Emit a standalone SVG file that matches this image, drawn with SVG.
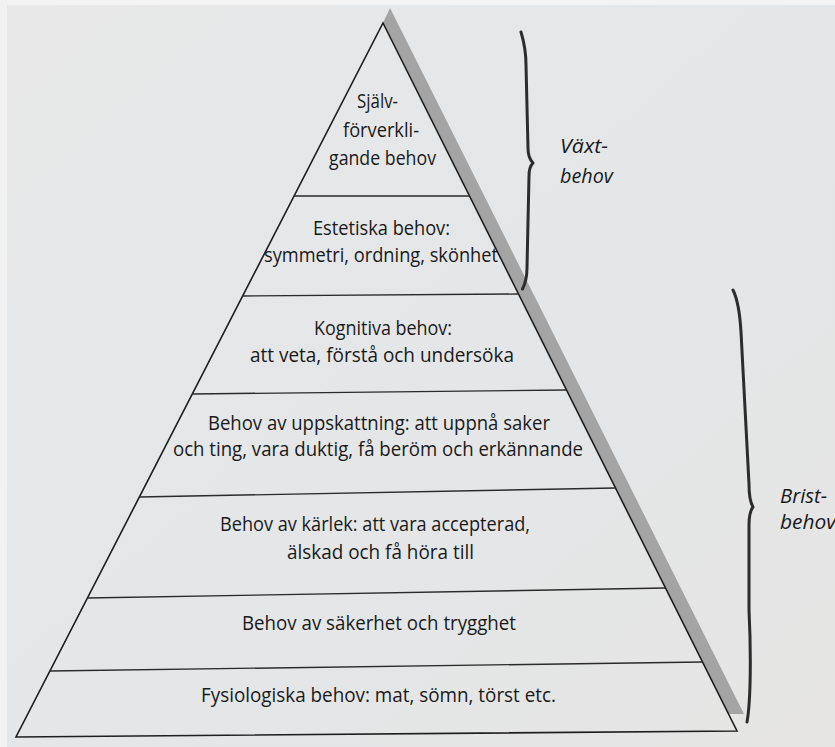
<svg xmlns="http://www.w3.org/2000/svg" width="835" height="747" viewBox="0 0 835 747">
  <defs>
    <linearGradient id="paper" x1="0" y1="0" x2="1" y2="1">
      <stop offset="0" stop-color="#e8e8e8"/>
      <stop offset="0.5" stop-color="#e4e6e8"/>
      <stop offset="1" stop-color="#e6e5e4"/>
    </linearGradient>
    <style>
      .edge { fill: none; stroke: #1e1e1e; stroke-width: 1.6; stroke-linejoin: miter; }
      .tier { fill: none; stroke: #2a2a2a; stroke-width: 1.4; }
      .shadow { fill: #a4a4a4; }
      .brace { fill: none; stroke: #2c2c2c; stroke-width: 3; stroke-linecap: round; stroke-linejoin: round; }
      .lbl { font-family: "Open Sans", "Noto Sans", "DejaVu Sans", sans-serif; font-size: 20px; fill: #1a1a1a; text-anchor: middle; }
      .side { font-family: "Open Sans", "Noto Sans", "DejaVu Sans", sans-serif; font-size: 20px; font-style: italic; fill: #1a1a1a; }
    </style>
  </defs>

  <rect x="0" y="0" width="835" height="747" fill="url(#paper)"/>
  <rect x="0" y="0" width="835" height="5" fill="#f3f3f3"/>
  <rect x="0" y="0" width="7" height="747" fill="#f1f1f1"/>

  <g id="pyramid">
    <polygon class="shadow" points="383,23 390,8 744,714 728,714"/>
    <polygon class="edge" points="383,23 737,731 16,737"/>
  </g>

  <g id="connectors">
    <line class="tier" x1="294" y1="196" x2="469.5" y2="196"/>
    <line class="tier" x1="242.5" y1="296" x2="518.5" y2="294"/>
    <line class="tier" x1="192" y1="394" x2="566.5" y2="390"/>
    <line class="tier" x1="139" y1="497" x2="615" y2="488"/>
    <line class="tier" x1="87" y1="598" x2="665.5" y2="588"/>
    <line class="tier" x1="50" y1="671" x2="702.5" y2="662"/>
    <path id="brace-vaxt" class="brace" d="M521,32 C524,42 526,52 526,65 L528,148 C528,156 530,160 533,163 C530,166 529,170 529,176 L527,268 C527,278 525,284 522.5,289"/>
    <path id="brace-brist" class="brace" d="M733,290 C738,300 740,315 741,332 L749,484 C749,495 750,502 753,507 C750,511 749,516 749,525 L749,610 C751,650 751,700 747,722"/>
  </g>

  <g id="level-sjalvforverkligande">
    <text class="lbl" x="377.5" y="108" textLength="41" lengthAdjust="spacingAndGlyphs">Själv-</text>
    <text class="lbl" x="381" y="137" textLength="76" lengthAdjust="spacingAndGlyphs">förverkli-</text>
    <text class="lbl" x="382.5" y="165" textLength="107" lengthAdjust="spacingAndGlyphs">gande behov</text>
  </g>

  <g id="level-estetiska">
    <text class="lbl" x="381.5" y="235" textLength="137" lengthAdjust="spacingAndGlyphs">Estetiska behov:</text>
    <text class="lbl" x="381" y="262" textLength="234" lengthAdjust="spacingAndGlyphs">symmetri, ordning, skönhet</text>
  </g>

  <g id="level-kognitiva">
    <text class="lbl" x="383" y="335" textLength="138" lengthAdjust="spacingAndGlyphs">Kognitiva behov:</text>
    <text class="lbl" x="382" y="362" textLength="264" lengthAdjust="spacingAndGlyphs">att veta, förstå och undersöka</text>
  </g>

  <g id="level-uppskattning">
    <text class="lbl" x="379" y="430" textLength="342" lengthAdjust="spacingAndGlyphs">Behov av uppskattning: att uppnå saker</text>
    <text class="lbl" x="378" y="456" textLength="410" lengthAdjust="spacingAndGlyphs">och ting, vara duktig, få beröm och erkännande</text>
  </g>

  <g id="level-karlek">
    <text class="lbl" x="375" y="531" textLength="310" lengthAdjust="spacingAndGlyphs">Behov av kärlek: att vara accepterad,</text>
    <text class="lbl" x="380.5" y="559" textLength="187" lengthAdjust="spacingAndGlyphs">älskad och få höra till</text>
  </g>

  <g id="level-sakerhet">
    <text class="lbl" x="379" y="630" textLength="274" lengthAdjust="spacingAndGlyphs">Behov av säkerhet och trygghet</text>
  </g>

  <g id="level-fysiologiska">
    <text class="lbl" x="378.5" y="702" textLength="355" lengthAdjust="spacingAndGlyphs">Fysiologiska behov: mat, sömn, törst etc.</text>
  </g>

  <g id="label-vaxtbehov">
    <text class="side" x="560" y="153" textLength="48" lengthAdjust="spacingAndGlyphs">Växt-</text>
    <text class="side" x="560" y="183" textLength="53" lengthAdjust="spacingAndGlyphs">behov</text>
  </g>

  <g id="label-bristbehov">
    <text class="side" x="780" y="503" textLength="47" lengthAdjust="spacingAndGlyphs">Brist-</text>
    <text class="side" x="780" y="529" textLength="56" lengthAdjust="spacingAndGlyphs">behov</text>
  </g>
</svg>
